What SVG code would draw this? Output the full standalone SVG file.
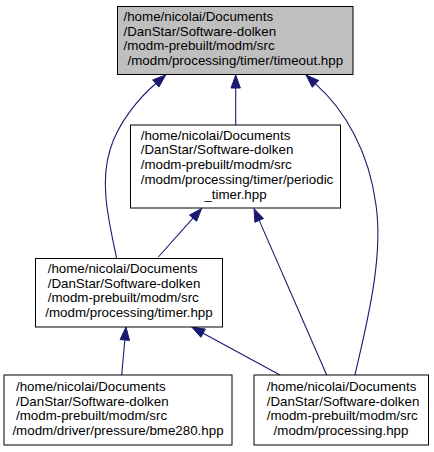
<svg xmlns="http://www.w3.org/2000/svg" width="434" height="452" viewBox="0 0 434 452">
<style>
.box{fill:#ffffff;stroke:#000000;stroke-width:1}
.root{fill:#bfbfbf;stroke:#000000;stroke-width:1}
text{font-family:"Liberation Sans",Arial,sans-serif;font-size:13.33px;fill:#000000}
.c{text-anchor:middle}
.edge{fill:none;stroke:#191970;stroke-width:1.1}
.head{fill:#191970;stroke:#191970;stroke-width:1}
</style>
<rect x="0" y="0" width="434" height="452" fill="#ffffff"/>
<g id="edges">
<path class="edge" d="M235.7,125 L235.7,88"/>
<polygon class="head" points="231,88 235.7,75 240.4,88"/>
<path class="edge" d="M116.5,258 C110,225 99,185 110,150 C118,122 140.6,96.5 155.8,83.5"/>
<polygon class="head" points="158.9,87 165.7,75 152.7,79.9"/>
<path class="edge" d="M355,375 C365,330 384,260 376,205 C369,152 345,110 315.5,83.9"/>
<polygon class="head" points="312.3,87.3 306,75 318.7,80.5"/>
<path class="edge" d="M158.3,257 L193,218.2"/>
<polygon class="head" points="196.5,221.3 201.7,208.5 189.5,215.1"/>
<path class="edge" d="M326.7,375 L259.2,220.4"/>
<polygon class="head" points="263.5,218.5 254,208.5 254.9,222.3"/>
<path class="edge" d="M121.7,375 L124.8,340"/>
<polygon class="head" points="129.5,340.4 126,327 120.1,339.6"/>
<path class="edge" d="M280,375 L203.1,333.2"/>
<polygon class="head" points="205.4,329.1 191.7,327 200.9,337.3"/>
</g>
<g id="node-timeout">
<rect class="root" x="117.5" y="6.5" width="235.5" height="68"/>
<text x="123.5" y="21">/home/nicolai/Documents</text>
<text x="123.5" y="35.7">/DanStar/Software-dolken</text>
<text x="123.5" y="50.4">/modm-prebuilt/modm/src</text>
<text class="c" x="235.3" y="65.1">/modm/processing/timer/timeout.hpp</text>
</g>
<g id="node-periodic">
<rect class="box" x="130.5" y="125" width="210" height="83"/>
<text x="140.7" y="139.7">/home/nicolai/Documents</text>
<text x="140.7" y="154.4">/DanStar/Software-dolken</text>
<text x="140.7" y="169.1">/modm-prebuilt/modm/src</text>
<text x="140.7" y="183.8">/modm/processing/timer/periodic</text>
<text class="c" x="235.5" y="198.5">_timer.hpp</text>
</g>
<g id="node-timer">
<rect class="box" x="35.5" y="258.5" width="187" height="68.5"/>
<text x="47.7" y="273">/home/nicolai/Documents</text>
<text x="47.7" y="287.7">/DanStar/Software-dolken</text>
<text x="47.7" y="302.4">/modm-prebuilt/modm/src</text>
<text class="c" x="129" y="317.1">/modm/processing/timer.hpp</text>
</g>
<g id="node-bme280">
<rect class="box" x="4" y="375" width="228" height="70"/>
<text x="16" y="391">/home/nicolai/Documents</text>
<text x="16" y="405.7">/DanStar/Software-dolken</text>
<text x="16" y="420.4">/modm-prebuilt/modm/src</text>
<text class="c" x="118" y="435.1">/modm/driver/pressure/bme280.hpp</text>
</g>
<g id="node-processing">
<rect class="box" x="254" y="375" width="174.5" height="70"/>
<text x="266.7" y="391">/home/nicolai/Documents</text>
<text x="266.7" y="405.7">/DanStar/Software-dolken</text>
<text x="266.7" y="420.4">/modm-prebuilt/modm/src</text>
<text class="c" x="341" y="435.1">/modm/processing.hpp</text>
</g>
</svg>
